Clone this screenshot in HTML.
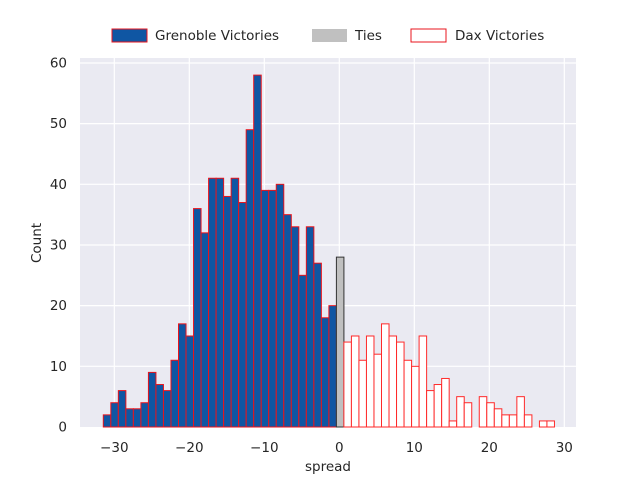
<!DOCTYPE html>
<html><head><meta charset="utf-8"><style>
body{margin:0;background:#fff}
svg text{font-family:"DejaVu Sans","Liberation Sans",sans-serif;font-size:13.5px;fill:#262626}
</style></head><body>
<svg id="s" width="640" height="480" xmlns="http://www.w3.org/2000/svg">
<rect x="80" y="58" width="496" height="369" fill="#eaeaf2"/>
<g id="grid" stroke="#fff" stroke-width="1.2"></g>
<g id="bars"></g>
<g id="labels"></g>
<text x="328" y="471" text-anchor="middle">spread</text>
<text transform="translate(41,243) rotate(-90)" text-anchor="middle">Count</text>
<rect x="112" y="29" width="35" height="13" fill="#0f56a3" stroke="#e8141c"/>
<text x="155" y="40">Grenoble Victories</text>
<rect x="312" y="29" width="35" height="13" fill="#c0c0c0"/>
<text x="355" y="40">Ties</text>
<rect x="411" y="29" width="35" height="13" fill="#fff" stroke="#e8141c"/>
<text x="455" y="40">Dax Victories</text>
</svg>
<script>
var ns="http://www.w3.org/2000/svg";
function el(p,t,a,tx){var e=document.createElementNS(ns,t);for(var k in a)e.setAttribute(k,a[k]);if(tx)e.textContent=tx;document.getElementById(p).appendChild(e);}
var y0=427,sy=6.067;
for(var v=0;v<=60;v+=10){var y=y0-v*sy;if(v>0)el('grid','line',{x1:80,x2:576,y1:y,y2:y});el('labels','text',{x:67,y:y+4.5,'text-anchor':'end'},String(v));}
for(var t=-30;t<=30;t+=10){var x=339.3+t*7.5;el('grid','line',{x1:x,x2:x,y1:58,y2:427});el('labels','text',{x:x,y:452,'text-anchor':'middle'},(t<0?'\u2212':'')+Math.abs(t));}
var g=[2,4,6,3,3,4,9,7,6,11,17,15,36,32,41,41,38,41,37,49,58,39,39,40,35,33,25,33,27,18,20];
var w=7.52;
g.forEach(function(h,i){el('bars','rect',{x:103.3+w*i,y:y0-h*sy,width:w,height:h*sy,fill:'#0f56a3',stroke:'#e8141c','stroke-width':1});});
el('bars','rect',{x:336.4,y:y0-28*sy,width:w,height:28*sy,fill:'#c0c0c0',stroke:'#333','stroke-width':1});
var d=[14,15,11,15,12,17,15,14,11,10,15,6,7,8,1,5,4,0,5,4,3,2,2,5,2,0,1,1];
d.forEach(function(h,i){if(h)el('bars','rect',{x:343.9+w*i,y:y0-h*sy,width:w,height:h*sy,fill:'#fff',stroke:'#ff2a2a','stroke-width':1});});
</script>
</body></html>
